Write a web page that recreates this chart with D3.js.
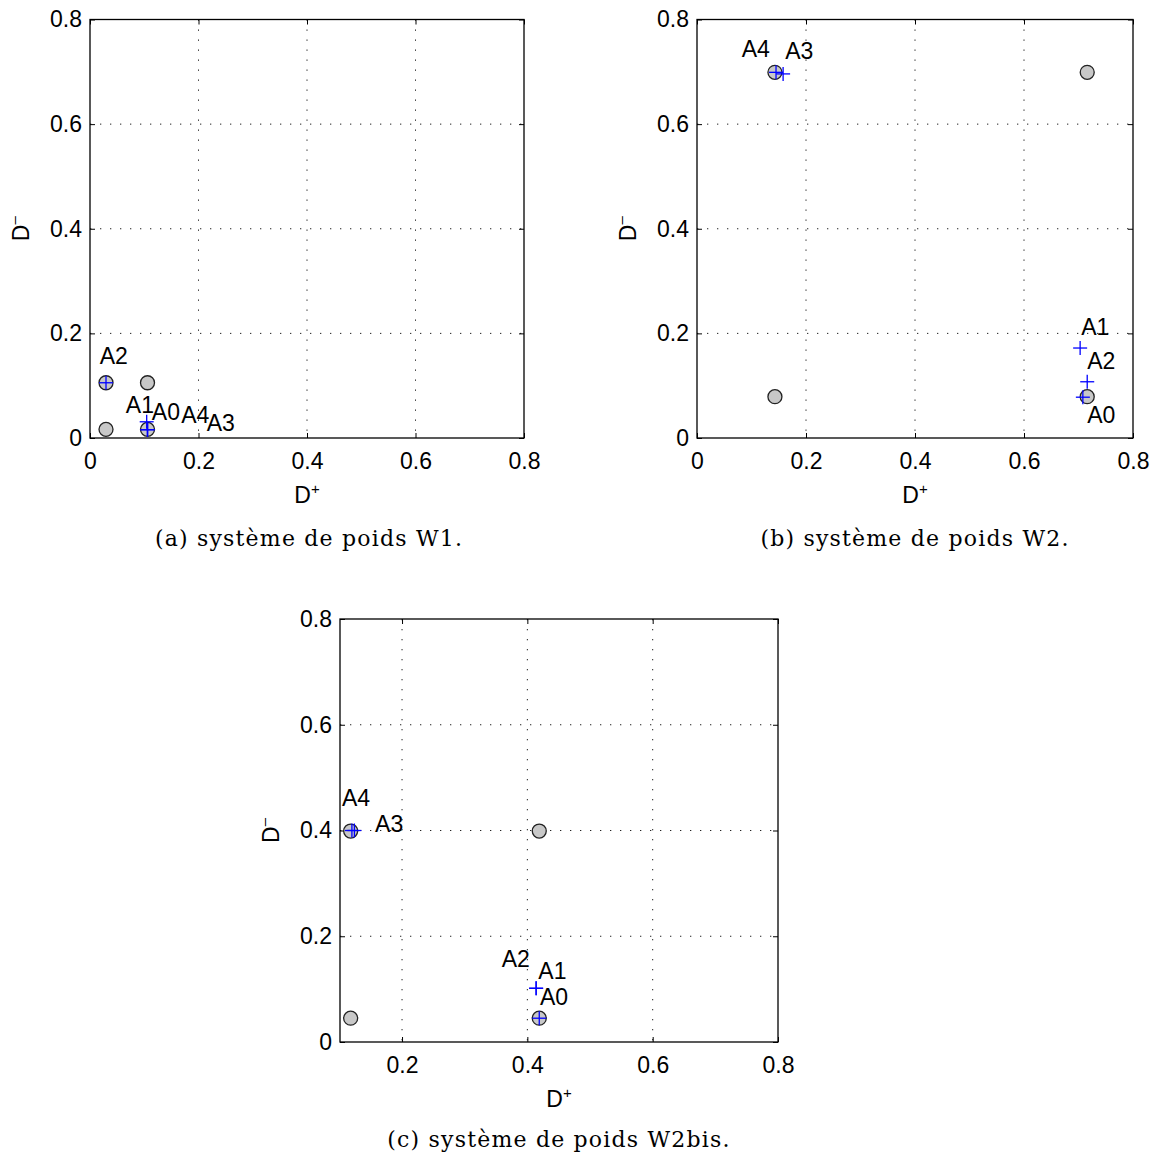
<!DOCTYPE html>
<html><head><meta charset="utf-8">
<script src="https://cdn.jsdelivr.net/npm/d3@7"></script>
<style>body{margin:0;background:#fff}</style>
</head><body>
<script>
// ---------- data ----------
const altNames = ["A0","A1","A2","A3","A4"];
const ticksXY = [0, 0.2, 0.4, 0.6, 0.8];
const ticksXc = [0.2, 0.4, 0.6, 0.8];
const tickLabelsXY = ["0","0.2","0.4","0.6","0.8"];
const tickLabelsXc = ["0.2","0.4","0.6","0.8"];

// panel (a) : W1
const circlesA = [[0.0295,0.0165],[0.0295,0.1056],[0.106,0.1056],[0.106,0.0165]];
const crossesA = [[0.106,0.016],[0.1045,0.031],[0.0295,0.1056],[0.106,0.016],[0.106,0.016]];
const labelsA  = [[0.114,0.034],[0.066,0.048],[0.018,0.141],[0.215,0.014],[0.168,0.029]];
// panel (b) : W2
const circlesB = [[0.143,0.079],[0.143,0.699],[0.716,0.699],[0.716,0.079]];
const crossesB = [[0.708,0.078],[0.703,0.172],[0.716,0.1075],[0.158,0.696],[0.145,0.699]];
const labelsB  = [[0.716,0.029],[0.705,0.197],[0.716,0.132],[0.162,0.724],[0.082,0.728]];
// panel (c) : W2bis
const circlesC = [[0.118,0.045],[0.118,0.399],[0.419,0.399],[0.419,0.045]];
const crossesC = [[0.419,0.045],[0.414,0.1016],[0.414,0.1016],[0.124,0.400],[0.120,0.400]];
const labelsC  = [[0.42,0.070],[0.4175,0.120],[0.359,0.142],[0.157,0.398],[0.104,0.446]];
const xDomainC = [0.101, 0.8];
const captions = ["(a) système de poids W1.","(b) système de poids W2.","(c) système de poids W2bis."];

// ---------- drawing ----------
const W = 1165, H = 1162;
const SANS = "'Liberation Sans', Arial, Helvetica, sans-serif";
const svg = d3.select("body").append("svg").attr("width", W).attr("height", H)
  .style("font-family", SANS);

function panel(box, xDomain, xTicks, xTickLabels, circles, crosses, labels, caption) {
  const x = d3.scaleLinear().domain(xDomain).range([box.l, box.r]);
  const y = d3.scaleLinear().domain([0, 0.8]).range([box.b, box.t]);
  const g = svg.append("g");
  // grid
  g.selectAll(".gx").data(xTicks.filter(v => v > xDomain[0] && v < xDomain[1])).enter()
    .append("line").attr("x1", d => x(d)).attr("x2", d => x(d)).attr("y1", box.t).attr("y2", box.b)
    .attr("stroke", "#222").attr("stroke-width", 1).attr("stroke-dasharray", "1.3 8.7");
  g.selectAll(".gy").data(ticksXY.filter(v => v > 0 && v < 0.8)).enter()
    .append("line").attr("y1", d => y(d)).attr("y2", d => y(d)).attr("x1", box.l).attr("x2", box.r)
    .attr("stroke", "#222").attr("stroke-width", 1).attr("stroke-dasharray", "1.3 8.7");
  // axes via d3 axis (ticks inside)
  const ax = d3.axisBottom(x).tickValues(xTicks).tickFormat((d, i) => xTickLabels[i]).tickSize(-5).tickPadding(15);
  const ay = d3.axisLeft(y).tickValues(ticksXY).tickFormat((d, i) => tickLabelsXY[i]).tickSize(-5).tickPadding(8);
  const axT = d3.axisTop(x).tickValues(xTicks).tickFormat("").tickSize(-5);
  const ayR = d3.axisRight(y).tickValues(ticksXY).tickFormat("").tickSize(-5);
  [[ax, `translate(0,${box.b})`], [ay, `translate(${box.l},0)`], [axT, `translate(0,${box.t})`], [ayR, `translate(${box.r},0)`]]
    .forEach(([a, t]) => {
      const s = g.append("g").attr("transform", t).call(a);
      s.attr("font-family", SANS);
      s.select(".domain").remove();
      s.selectAll("line").attr("stroke", "#000");
      s.selectAll("text").attr("font-size", 23).attr("fill", "#000");
    });
  g.append("rect").attr("x", box.l).attr("y", box.t).attr("width", box.r - box.l).attr("height", box.b - box.t)
    .attr("fill", "none").attr("stroke", "#000").attr("stroke-width", 1.3);
  // axis labels
  const xl = g.append("text").attr("x", (box.l + box.r) / 2).attr("y", box.b + 65).attr("text-anchor", "middle")
    .attr("font-size", 23);
  xl.append("tspan").text("D");
  xl.append("tspan").text("+").attr("font-size", 15).attr("dy", -9);
  const yl = g.append("text").attr("transform", `translate(${box.l - 61},${(box.t + box.b) / 2}) rotate(-90)`)
    .attr("text-anchor", "middle").attr("font-size", 23);
  yl.append("tspan").text("D");
  yl.append("tspan").text("\u2013").attr("font-size", 15).attr("dy", -10);
  // circles
  g.selectAll(".c").data(circles).enter().append("circle")
    .attr("cx", d => x(d[0])).attr("cy", d => y(d[1])).attr("r", 7)
    .attr("fill", "#c8c8c8").attr("stroke", "#222").attr("stroke-width", 1.3);
  // crosses
  const cg = g.selectAll(".x").data(crosses).enter().append("g")
    .attr("transform", d => `translate(${x(d[0])},${y(d[1])})`);
  cg.append("line").attr("x1", -7).attr("x2", 7).attr("stroke", "#0000ff").attr("stroke-width", 1.3);
  cg.append("line").attr("y1", -7).attr("y2", 7).attr("stroke", "#0000ff").attr("stroke-width", 1.3);
  // labels
  g.selectAll(".lab").data(labels).enter().append("text")
    .attr("x", d => x(d[0])).attr("y", d => y(d[1])).attr("font-size", 23).text((d, i) => altNames[i]);
  // caption
  svg.append("text").attr("x", caption.x).attr("y", caption.y).attr("text-anchor", "middle")
    .attr("font-family", "'DejaVu Serif', 'Liberation Serif', serif").attr("font-size", 22)
    .attr("letter-spacing", 1.2).text(caption.t);
}

panel({l: 90, r: 524, t: 19.5, b: 438}, [0, 0.8], ticksXY, tickLabelsXY, circlesA, crossesA, labelsA,
  {x: 309, y: 546, t: captions[0]});
panel({l: 697, r: 1133, t: 19.5, b: 438}, [0, 0.8], ticksXY, tickLabelsXY, circlesB, crossesB, labelsB,
  {x: 915, y: 546, t: captions[1]});
panel({l: 340, r: 778, t: 619, b: 1042}, xDomainC, ticksXc, tickLabelsXc, circlesC, crossesC, labelsC,
  {x: 559, y: 1147, t: captions[2]});
</script>
</body></html>
